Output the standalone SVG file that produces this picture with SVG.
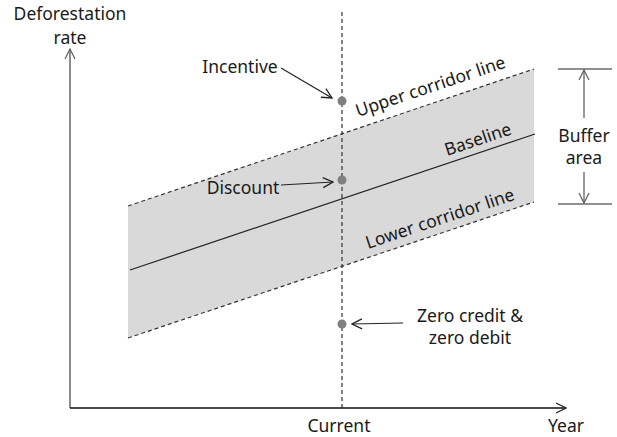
<svg xmlns="http://www.w3.org/2000/svg" width="617" height="437" viewBox="0 0 617 437">
<style>
text{font-family:"Noto Sans","Open Sans",sans-serif;font-size:17.5px;fill:#1a1a1a}
.dash{stroke:#333;stroke-width:1.2;stroke-dasharray:4,3;fill:none}
.ln{stroke:#222;stroke-width:1.2;fill:none}
.dot{fill:#808080}
</style>
<defs>
<marker id="open" viewBox="0 0 12 12" refX="11" refY="6" markerWidth="12" markerHeight="12" markerUnits="userSpaceOnUse" orient="auto">
<path d="M1,1 L11,6 L1,11" fill="none" stroke="#222" stroke-width="1.3"/>
</marker>
<marker id="openg" viewBox="0 0 12 12" refX="11" refY="6" markerWidth="12" markerHeight="12" markerUnits="userSpaceOnUse" orient="auto">
<path d="M1,1 L11,6 L1,11" fill="none" stroke="#666" stroke-width="1.3"/>
</marker>
</defs>
<rect width="617" height="437" fill="#fff"/>
<g id="band">
<polygon points="128,206 534,69 534,202 128,338" fill="#d9d9d9"/>
<line class="dash" x1="128" y1="206" x2="534" y2="69"/>
<line class="dash" x1="128" y1="338" x2="534" y2="202"/>
<line class="ln" x1="130" y1="270" x2="535" y2="134"/>
<text transform="translate(358,117) rotate(-18.5)">Upper corridor line</text>
<text transform="translate(447,156) rotate(-18.5)">Baseline</text>
<text transform="translate(368,249) rotate(-18.5)">Lower corridor line</text>
</g>
<g id="axes">
<line x1="70" y1="408" x2="70" y2="49" stroke="#666" stroke-width="1.5" marker-end="url(#openg)"/>
<line x1="70" y1="408" x2="566" y2="408" stroke="#111" stroke-width="1.5" marker-end="url(#open)"/>
<text x="70" y="20" text-anchor="middle">Deforestation</text>
<text x="70" y="44" text-anchor="middle">rate</text>
<text x="339" y="432" text-anchor="middle">Current</text>
<text x="566" y="432" text-anchor="middle">Year</text>
</g>
<g id="current-line">
<line class="dash" x1="342" y1="12" x2="342" y2="408"/>
</g>
<g id="connectors">
<line class="ln" x1="281" y1="68" x2="332" y2="98" marker-end="url(#open)"/>
<line class="ln" x1="281" y1="185" x2="333" y2="182" marker-end="url(#open)"/>
<line class="ln" x1="403" y1="323" x2="352" y2="324" marker-end="url(#open)"/>
</g>
<g id="incentive">
<circle class="dot" cx="342" cy="101" r="4.5"/>
<text x="240" y="73" text-anchor="middle">Incentive</text>
</g>
<g id="discount">
<circle class="dot" cx="342" cy="180" r="4.5"/>
<text x="243" y="194" text-anchor="middle">Discount</text>
</g>
<g id="zero">
<circle class="dot" cx="342" cy="324" r="4.5"/>
<text x="470" y="322" text-anchor="middle">Zero credit &amp;</text>
<text x="470" y="344" text-anchor="middle">zero debit</text>
</g>
<g id="buffer">
<line x1="558" y1="69" x2="612" y2="69" stroke="#222" stroke-width="1.2"/>
<line x1="558" y1="204" x2="612" y2="204" stroke="#222" stroke-width="1.2"/>
<line x1="584" y1="118" x2="584" y2="70" stroke="#555" stroke-width="1.2" marker-end="url(#openg)"/>
<line x1="584" y1="172" x2="584" y2="203" stroke="#555" stroke-width="1.2" marker-end="url(#openg)"/>
<text x="584" y="142" text-anchor="middle">Buffer</text>
<text x="584" y="164" text-anchor="middle">area</text>
</g>
</svg>
